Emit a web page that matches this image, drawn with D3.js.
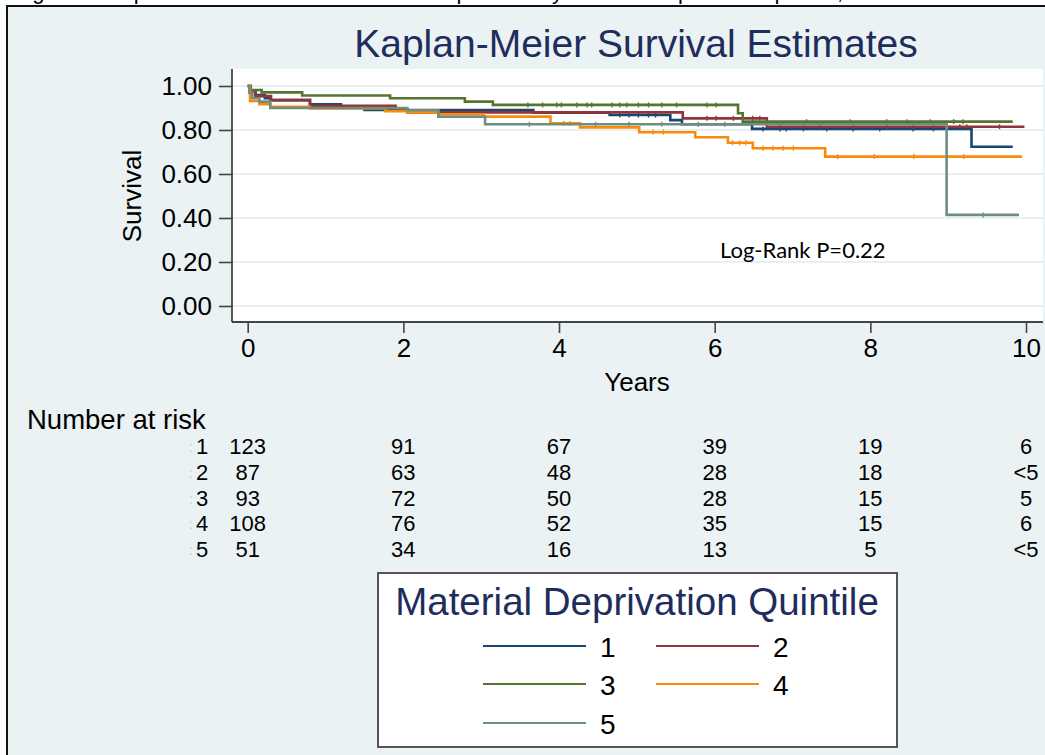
<!DOCTYPE html>
<html>
<head>
<meta charset="utf-8">
<script src="https://cdn.jsdelivr.net/npm/d3@7"></script>
<style>
  body { margin: 0; background: #fff; }
  svg { display: block; font-family: "Liberation Sans", Arial, sans-serif; }
</style>
</head>
<body>
<svg id="chart" width="1045" height="755"></svg>
<script>
//////////////// DATA ////////////////

var groups = ["1", "2", "3", "4", "5"];
var groupColors = ["#1a476f", "#90353b", "#55752f", "#f98b0a", "#6e8e84"];

var yearTicks = [0, 2, 4, 6, 8, 10];
var survTicks = [0, 0.2, 0.4, 0.6, 0.8, 1.0];

// Step points: time (years) and survival after each drop
var q1Times = [0, 0.03, 0.10, 0.22, 0.29, 0.80, 1.20, 1.50, 3.67, 4.65, 5.43, 5.58, 6.48, 9.30];
var q1Surv  = [1, 0.975, 0.959, 0.945, 0.936, 0.917, 0.906, 0.891, 0.879, 0.868, 0.845, 0.826, 0.805, 0.724];
var q2Times = [0, 0.04, 0.10, 0.30, 0.80, 1.90, 2.05, 5.59, 6.67];
var q2Surv  = [1, 0.977, 0.954, 0.936, 0.910, 0.898, 0.880, 0.853, 0.815];
var q3Times = [0, 0.03, 0.18, 0.70, 1.83, 2.79, 3.15, 6.30, 6.36];
var q3Surv  = [1, 0.982, 0.971, 0.957, 0.944, 0.929, 0.914, 0.876, 0.838];
var q4Times = [0, 0.03, 0.15, 0.29, 0.80, 1.77, 2.05, 2.45, 3.03, 3.89, 4.27, 5.03, 5.75, 6.17, 6.49, 7.42];
var q4Surv  = [1, 0.932, 0.917, 0.906, 0.898, 0.886, 0.880, 0.871, 0.861, 0.830, 0.812, 0.790, 0.767, 0.742, 0.717, 0.679];
var q5Times = [0, 0.02, 0.06, 0.15, 0.29, 2.05, 2.45, 3.05, 8.98];
var q5Surv  = [1, 0.970, 0.944, 0.929, 0.900, 0.890, 0.860, 0.826, 0.414];

// Last follow-up time of each group
var endTimes = [9.83, 9.98, 9.83, 9.95, 9.91];

// Censoring marks (years)
var q1Censor = [4.78, 4.90, 5.02, 5.15, 5.24, 6.62, 6.84, 6.92, 7.14, 7.44, 7.78, 8.12, 8.55, 8.81];
var q2Censor = [5.90, 6.02, 6.24, 6.49, 6.58, 6.84, 7.14, 7.35, 7.78, 8.21, 8.55, 8.81, 9.15, 9.24, 9.66];
var q3Censor = [3.60, 3.79, 3.97, 4.03, 4.23, 4.36, 4.42, 4.68, 4.78, 4.87, 5.02, 5.15, 5.32, 5.51, 5.90, 6.02,
                6.49, 7.18, 7.74, 8.21, 8.47, 8.77, 9.07, 9.19];
var q4Censor = [4.06, 4.14, 5.21, 5.34, 6.23, 6.32, 6.40, 6.62, 6.75, 6.88, 7.01, 7.58, 8.05, 8.56, 8.99, 9.20];
var q5Censor = [3.62, 4.47, 4.90, 5.32, 5.79, 6.13, 9.45];

// Number at risk table
var risk1 = ["123", "91", "67", "39", "19", "6"];
var risk2 = ["87", "63", "48", "28", "18", "<5"];
var risk3 = ["93", "72", "50", "28", "15", "5"];
var risk4 = ["108", "76", "52", "35", "15", "6"];
var risk5 = ["51", "34", "16", "13", "5", "<5"];

var allTimes = [q1Times, q2Times, q3Times, q4Times, q5Times];
var allSurv = [q1Surv, q2Surv, q3Surv, q4Surv, q5Surv];
var allCensor = [q1Censor, q2Censor, q3Censor, q4Censor, q5Censor];
var allRisk = [risk1, risk2, risk3, risk4, risk5];

//////////////// LAYOUT ////////////////

var svg = d3.select("#chart");
var W = 1045, H = 755;
var titleColor = "#1e2d5c";

var x = d3.scaleLinear().domain([0, 10]).range([247.7, 1026]);
var y = d3.scaleLinear().domain([0, 1]).range([306, 86]);

var plotLeft = 232, plotTop = 69, plotBottom = 322, plotRight = 1043;

// caption of the document, cut off at the top of the crop
svg.append("text")
    .attr("x", 14).attr("y", -1)
    .attr("font-size", 22)
    .text("Figure 2: Kaplan-Meier survival estimates for patients by material deprivation quintile, Ontario");

// outer graph region
svg.append("rect")
    .attr("x", 7).attr("y", 6)
    .attr("width", W).attr("height", H)
    .attr("fill", "#eaf2f3")
    .attr("stroke", "#111").attr("stroke-width", 2);

// plot region
svg.append("rect")
    .attr("x", plotLeft).attr("y", plotTop)
    .attr("width", plotRight - plotLeft).attr("height", plotBottom - plotTop)
    .attr("fill", "#fff");

// gridlines
svg.append("g").selectAll("line")
    .data(survTicks)
    .enter().append("line")
    .attr("x1", plotLeft).attr("x2", plotRight)
    .attr("y1", function(d) { return y(d); })
    .attr("y2", function(d) { return y(d); })
    .attr("stroke", "#e1ebee").attr("stroke-width", 1.5);

// title
svg.append("text")
    .attr("x", 636).attr("y", 57)
    .attr("text-anchor", "middle")
    .attr("font-size", 39)
    .attr("fill", titleColor)
    .text("Kaplan-Meier Survival Estimates");

//////////////// AXES ////////////////

var yAxis = d3.axisLeft(y)
    .tickValues(survTicks)
    .tickFormat(d3.format(".2f"))
    .tickSize(13)
    .tickPadding(7);
var gy = svg.append("g")
    .attr("transform", "translate(" + plotLeft + ",0)")
    .call(yAxis);

var xAxis = d3.axisBottom(x)
    .tickValues(yearTicks)
    .tickFormat(d3.format("d"))
    .tickSize(11)
    .tickPadding(6);
var gx = svg.append("g")
    .attr("transform", "translate(0," + plotBottom + ")")
    .call(xAxis);

[gx, gy].forEach(function(g) {
    g.select(".domain").remove();
    g.selectAll(".tick line").attr("stroke", "#444").attr("stroke-width", 1.6);
    g.selectAll(".tick text").attr("font-size", 26).attr("fill", "#000")
        .attr("font-family", "'Liberation Sans', Arial, sans-serif");
});

svg.append("line")
    .attr("x1", plotLeft).attr("x2", plotLeft)
    .attr("y1", plotTop).attr("y2", plotBottom)
    .attr("stroke", "#444").attr("stroke-width", 1.8);
svg.append("line")
    .attr("x1", plotLeft).attr("x2", plotRight)
    .attr("y1", plotBottom).attr("y2", plotBottom)
    .attr("stroke", "#444").attr("stroke-width", 1.8);

svg.append("text")
    .attr("x", 637).attr("y", 391)
    .attr("text-anchor", "middle")
    .attr("font-size", 26)
    .text("Years");

svg.append("text")
    .attr("transform", "translate(141,196) rotate(-90)")
    .attr("text-anchor", "middle")
    .attr("font-size", 26)
    .text("Survival");

//////////////// CURVES ////////////////

var stepLine = d3.line()
    .x(function(d) { return x(d[0]); })
    .y(function(d) { return y(d[1]); })
    .curve(d3.curveStepAfter);

var curves = svg.append("g");
groups.forEach(function(g, i) {
    var pts = allTimes[i].map(function(t, j) { return [t, allSurv[i][j]]; });
    var last = allSurv[i][allSurv[i].length - 1];
    pts.push([endTimes[i], last]);

    curves.append("path")
        .datum(pts)
        .attr("d", stepLine)
        .attr("fill", "none")
        .attr("stroke", groupColors[i])
        .attr("stroke-width", 2.6);

    // censor ticks sit on the step value at that time
    var survAt = function(t) {
        var s = 1;
        allTimes[i].forEach(function(tt, j) { if (tt <= t) s = allSurv[i][j]; });
        return s;
    };
    curves.append("g").selectAll("line")
        .data(allCensor[i])
        .enter().append("line")
        .attr("x1", function(d) { return x(d); })
        .attr("x2", function(d) { return x(d); })
        .attr("y1", function(d) { return y(survAt(d)) - 2.5; })
        .attr("y2", function(d) { return y(survAt(d)) + 2.5; })
        .attr("stroke", groupColors[i])
        .attr("stroke-width", 1.4);
});

svg.append("text")
    .attr("x", 720).attr("y", 258)
    .attr("font-family", "Lato, 'Open Sans', sans-serif")
    .attr("font-size", 22)
    .text("Log-Rank P=0.22");

//////////////// NUMBER AT RISK ////////////////

svg.append("text")
    .attr("x", 27).attr("y", 429)
    .attr("font-size", 27.5)
    .text("Number at risk");

var rowY = d3.scaleLinear().domain([0, 4]).range([454, 557]);

groups.forEach(function(g, i) {
    svg.append("text")
        .attr("x", 189).attr("y", rowY(i) - 2)
        .attr("font-size", 14)
        .attr("fill", "#b9d3de")
        .text(":");
    svg.append("text")
        .attr("x", 202).attr("y", rowY(i))
        .attr("text-anchor", "middle")
        .attr("font-size", 22)
        .text(g);
    svg.append("g").selectAll("text")
        .data(allRisk[i])
        .enter().append("text")
        .attr("x", function(d, j) { return x(yearTicks[j]); })
        .attr("y", rowY(i))
        .attr("text-anchor", "middle")
        .attr("font-size", 22)
        .text(function(d) { return d; });
});

//////////////// LEGEND ////////////////

var legend = svg.append("g");
legend.append("rect")
    .attr("x", 378).attr("y", 573)
    .attr("width", 519).attr("height", 174)
    .attr("fill", "#fff")
    .attr("stroke", "#555").attr("stroke-width", 2);

legend.append("text")
    .attr("x", 637).attr("y", 615)
    .attr("text-anchor", "middle")
    .attr("font-size", 38.5)
    .attr("fill", titleColor)
    .text("Material Deprivation Quintile");

var legCols = [483, 656];
var legRows = [646, 684, 723];
groups.forEach(function(g, i) {
    var cx = legCols[i % 2], cy = legRows[Math.floor(i / 2)];
    legend.append("line")
        .attr("x1", cx).attr("x2", cx + 103)
        .attr("y1", cy).attr("y2", cy)
        .attr("stroke", groupColors[i])
        .attr("stroke-width", 2.2);
    legend.append("text")
        .attr("x", cx + 117).attr("y", cy + 11)
        .attr("font-size", 28)
        .text(g);
});
</script>
</body>
</html>
